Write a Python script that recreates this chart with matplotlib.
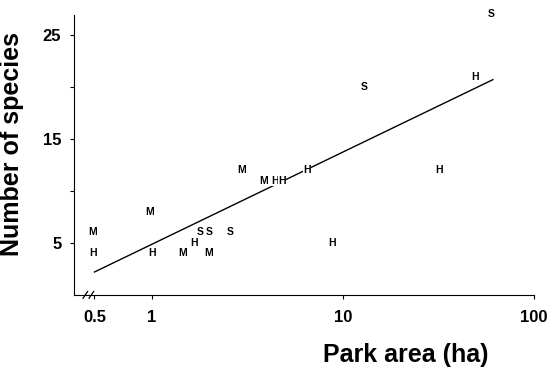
import numpy as np
import matplotlib.pyplot as plt

plt.rcParams['font.family'] = ['Liberation Sans', 'DejaVu Sans']

# park area (ha), number of species, group letter
area = [0.49, 0.49, 0.97, 1.0, 1.45, 1.66, 1.78, 1.99, 1.99, 2.56,
        2.96, 3.86, 4.4, 4.8, 6.5, 8.8, 12.9, 31.8, 49, 59.5]
species = [6, 4, 8, 4, 4, 5, 6, 6, 4, 6,
           12, 11, 11, 11, 12, 5, 20, 12, 21, 27]
group = ['M', 'H', 'M', 'H', 'M', 'H', 'S', 'S', 'M', 'S',
         'M', 'M', 'H', 'H', 'H', 'H', 'S', 'H', 'H', 'S']

# regression line end points
line_x = [0.5, 61]
line_y = [2.2, 20.7]

xticks = [0.5, 1, 10, 100]
xtick_labels = ['0.5', '1', '10', '100']
yticks = [5, 10, 15, 20, 25]
ytick_labels = ['5', '', '15', '', '25']

fig = plt.figure(figsize=(5.55, 3.70), dpi=100)
ax = fig.add_axes([0.133, 0.203, 0.829, 0.756])

ax.plot(line_x, line_y, color='black', lw=1.0, zorder=1)
for x, y, g in zip(area, species, group):
    ax.text(x, y, g, ha='center', va='center', fontsize=7.5, fontweight='bold',
            zorder=3, bbox=dict(facecolor='white', edgecolor='none', pad=0.3))

ax.set_xscale('log')
ax.set_xlim(0.39, 100)
ax.set_ylim(0, 26.9)
ax.set_xticks(xticks)
ax.set_xticklabels(xtick_labels)
ax.minorticks_off()
ax.set_yticks(yticks)
ax.set_yticklabels(ytick_labels)
ax.tick_params(axis='both', direction='out', length=3, width=0.8, labelsize=12)
for lab in ax.get_xticklabels() + ax.get_yticklabels():
    lab.set_fontweight('bold')
ax.tick_params(axis='x', pad=8)
ax.tick_params(axis='y', pad=6)

ax.spines['top'].set_visible(False)
ax.spines['right'].set_visible(False)

# axis break marks
for x0 in [0.02, 0.033]:
    ax.plot([x0, x0 + 0.01], [-0.012, 0.012], transform=ax.transAxes,
            color='black', lw=0.9, clip_on=False)

ax.set_xlabel('Park area (ha)', fontsize=18, fontweight='bold')
ax.xaxis.set_label_coords(0.722, -0.172)
ax.set_ylabel('Number of species', fontsize=18, fontweight='bold')
ax.yaxis.set_label_coords(-0.108, 0.54)

fig.savefig('out.png', dpi=100)
